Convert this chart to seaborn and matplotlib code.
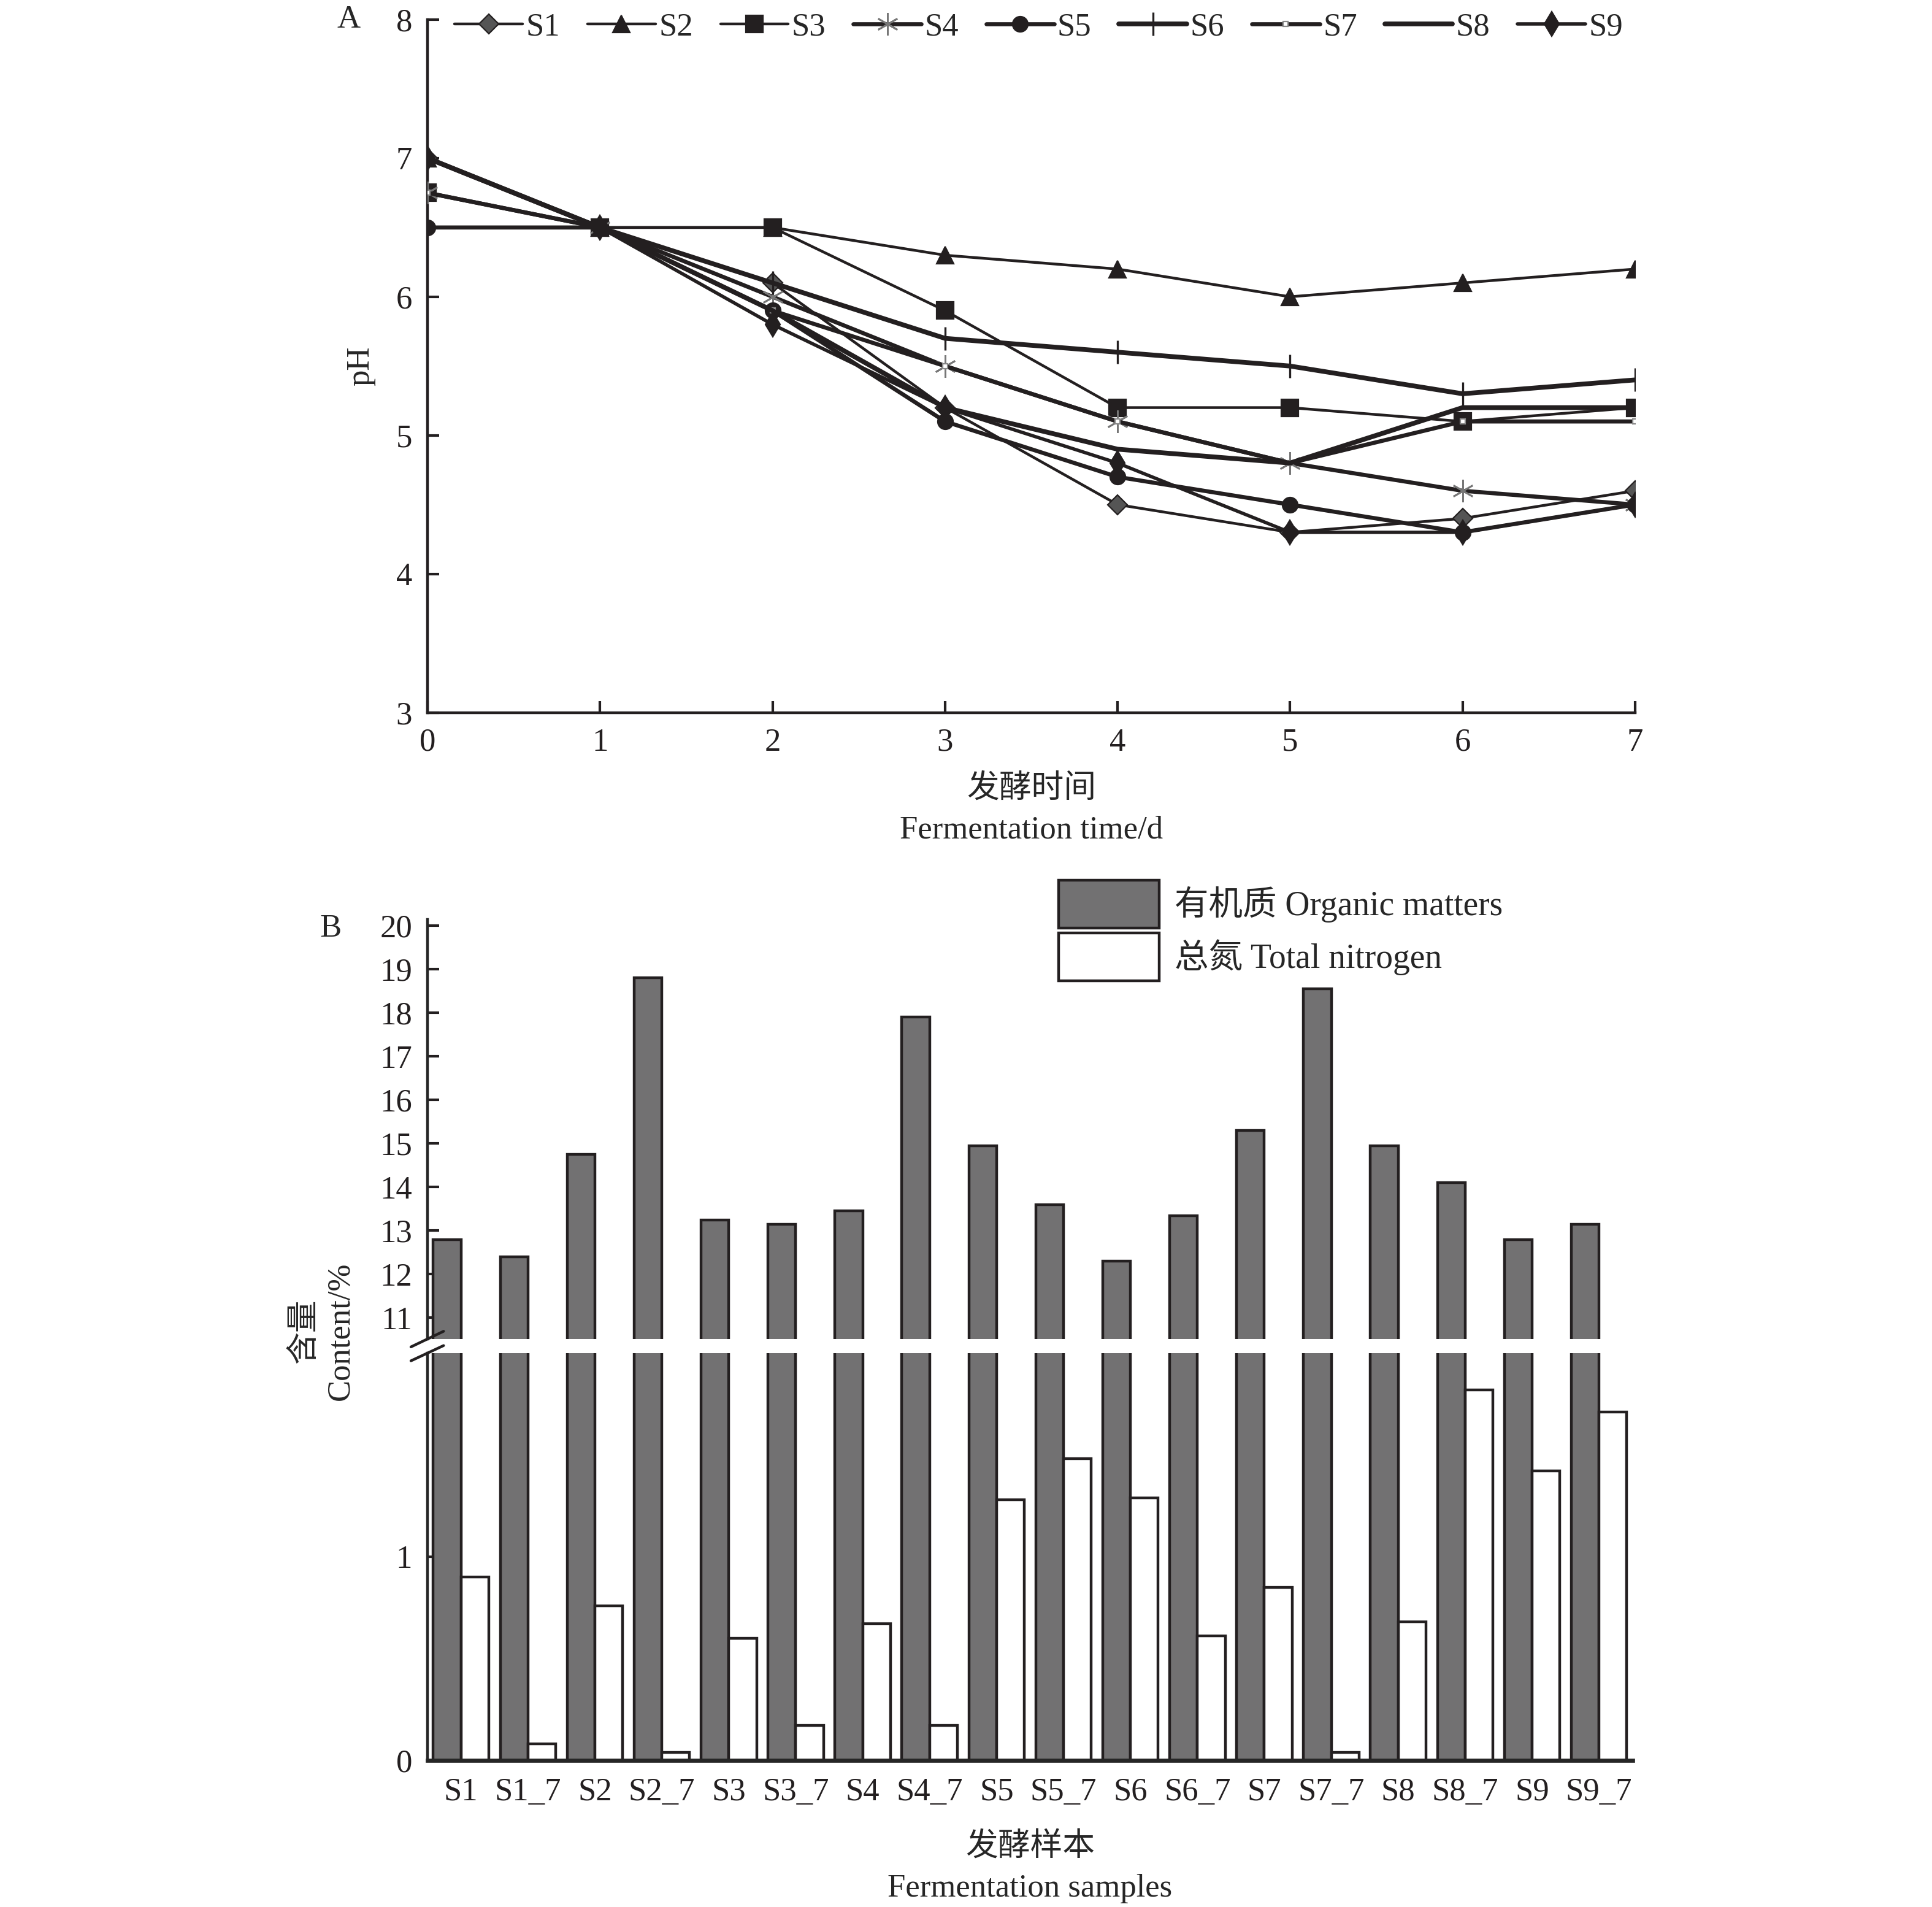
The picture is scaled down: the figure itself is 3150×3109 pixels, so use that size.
import pandas as pd
import matplotlib.pyplot as plt
import matplotlib.lines as mlines
import seaborn as sns
import numpy as np

# pH data (panel A)
days = [0, 1, 2, 3, 4, 5, 6, 7]
S1 = [7.0, 6.5, 6.1, 5.2, 4.5, 4.3, 4.4, 4.6]
S2 = [7.0, 6.5, 6.5, 6.3, 6.2, 6.0, 6.1, 6.2]
S3 = [6.75, 6.5, 6.5, 5.9, 5.2, 5.2, 5.1, 5.2]
S4 = [6.75, 6.5, 6.0, 5.5, 5.1, 4.8, 4.6, 4.5]
S5 = [6.5, 6.5, 5.9, 5.1, 4.7, 4.5, 4.3, 4.5]
S6 = [7.0, 6.5, 6.1, 5.7, 5.6, 5.5, 5.3, 5.4]
S7 = [6.75, 6.5, 5.9, 5.5, 5.1, 4.8, 5.1, 5.1]
S8 = [7.0, 6.5, 5.9, 5.2, 4.9, 4.8, 5.2, 5.2]
S9 = [7.0, 6.5, 5.8, 5.2, 4.8, 4.3, 4.3, 4.5]

# organic matter / total nitrogen (panel B)
samples = ['S1', 'S1_7', 'S2', 'S2_7', 'S3', 'S3_7', 'S4', 'S4_7', 'S5',
           'S5_7', 'S6', 'S6_7', 'S7', 'S7_7', 'S8', 'S8_7', 'S9', 'S9_7']
organic = [12.8, 12.4, 14.75, 18.8, 13.25, 13.15, 13.45, 17.9, 14.95,
           13.6, 12.3, 13.35, 15.3, 18.55, 14.95, 14.1, 12.8, 13.15]
nitrogen = [0.90, 0.08, 0.76, 0.04, 0.60, 0.17, 0.67, 0.17, 1.28,
            1.48, 1.29, 0.61, 0.85, 0.04, 0.68, 1.82, 1.42, 1.71]

sns.set_style('ticks')
plt.rcParams['font.family'] = ['Liberation Serif', 'Noto Sans CJK SC']
plt.rcParams['font.size'] = 19
ink = '#231f20'
grey = '#727172'

fig = plt.figure(figsize=(15.75, 15.545), dpi=200)

# ---- panel A ----
ax1 = fig.add_axes([0.2213, 0.6264, 0.625, 0.3633])
styles = {
    'S1': dict(marker='D', ms=8, mfc='#555555', mec=ink, lw=1.6),
    'S2': dict(marker='^', ms=10, mfc=ink, mec=ink, lw=1.6),
    'S3': dict(marker='s', ms=10, mfc=ink, mec=ink, lw=1.6),
    'S4': dict(marker=(6, 2, 0), ms=13, mfc='#777777', mec='#777777', mew=1.0, lw=2.4),
    'S5': dict(marker='o', ms=9, mfc=ink, mec=ink, lw=2.4),
    'S6': dict(marker='|', ms=14, mfc=ink, mec=ink, mew=1.2, lw=2.8),
    'S7': dict(marker='s', ms=3, mfc='white', mec='#888888', mew=0.8, lw=2.4),
    'S8': dict(marker=None, lw=2.8),
    'S9': dict(marker='d', ms=10, mfc=ink, mec=ink, lw=2.0),
}
series = {'S1': S1, 'S2': S2, 'S3': S3, 'S4': S4, 'S5': S5,
          'S6': S6, 'S7': S7, 'S8': S8, 'S9': S9}
handles = []
for name, vals in series.items():
    st = styles[name]
    sns.lineplot(x=days, y=vals, ax=ax1, color=ink, linewidth=st['lw'],
                 marker=st['marker'], markersize=st.get('ms', 0),
                 markerfacecolor=st.get('mfc', ink),
                 markeredgecolor=st.get('mec', ink),
                 markeredgewidth=st.get('mew', 0.8), zorder=3)
    handles.append(mlines.Line2D([], [], color=ink, lw=st['lw'],
                                 marker=st['marker'], ms=st.get('ms', 0),
                                 mfc=st.get('mfc', ink), mec=st.get('mec', ink),
                                 mew=st.get('mew', 0.8), label=name))

ax1.set_xlim(0, 7)
ax1.set_ylim(3, 8)
ax1.set_xticks(days)
ax1.set_yticks([3, 4, 5, 6, 7, 8])
ax1.tick_params(direction='in', length=7, width=1.5, colors=ink, labelsize=19, pad=9)
for s in ['left', 'bottom']:
    ax1.spines[s].set_linewidth(1.6)
    ax1.spines[s].set_color(ink)
sns.despine(ax=ax1)
ax1.set_ylabel('pH', fontsize=19, labelpad=12)
ax1.set_xlabel('发酵时间\nFermentation time/d', fontsize=19, labelpad=10,
               linespacing=1.5)
fig.legend(handles=handles, loc='upper left', ncol=9, frameon=False,
           bbox_to_anchor=(0.227, 1.002), bbox_transform=fig.transFigure,
           handlelength=2.1, handletextpad=0.1, columnspacing=0.85,
           borderpad=0, fontsize=19)
fig.text(0.1805, 0.9897, 'A', fontsize=19, va='center', ha='center')

# ---- panel B (broken y axis) ----
df = pd.DataFrame({
    'sample': samples * 2,
    'kind': ['有机质 Organic matters'] * len(samples) + ['总氮 Total nitrogen'] * len(samples),
    'value': organic + nitrogen,
})
pal = {'有机质 Organic matters': grey, '总氮 Total nitrogen': 'white'}

ax_hi = fig.add_axes([0.2213, 0.298, 0.6237, 0.220])
ax_lo = fig.add_axes([0.2213, 0.0769, 0.6237, 0.2136])
for ax in (ax_hi, ax_lo):
    sns.barplot(data=df, x='sample', y='value', hue='kind', palette=pal,
                order=samples, width=0.83, edgecolor=ink, linewidth=1.6,
                ax=ax, legend=(ax is ax_hi))
    ax.set_xlim(-0.5, 17.5)
    ax.set_xlabel('')
    ax.set_ylabel('')
    ax.tick_params(axis='y', direction='in', length=7, width=1.5, colors=ink,
                   labelsize=19, pad=9)

ax_hi.set_ylim(10.52, 20.15)
ax_hi.set_yticks(range(11, 21))
ax_hi.set_xticks([])
sns.despine(ax=ax_hi, bottom=True)
ax_hi.spines['left'].set_linewidth(1.6)

ax_lo.set_ylim(0, 2.0)
ax_lo.set_yticks([0, 1])
sns.despine(ax=ax_lo)
ax_lo.spines['left'].set_linewidth(1.6)
ax_lo.spines['bottom'].set_linewidth(2.4)
ax_lo.tick_params(axis='x', length=0, labelsize=19, pad=10, colors=ink)
ax_lo.set_xlabel('发酵样本\nFermentation samples', fontsize=19, labelpad=15,
                 linespacing=1.5)

leg = ax_hi.get_legend()
h, l = ax_hi.get_legend_handles_labels()
leg.remove()
fig.legend(h, l, loc='upper left', frameon=False,
           bbox_to_anchor=(0.539, 0.5474), bbox_transform=fig.transFigure,
           handlelength=2.95, handleheight=1.78, handletextpad=0.45,
           labelspacing=0.15, borderpad=0, fontsize=20)

# break marks
for y0, y1 in ((0.2937, 0.3019), (0.2864, 0.2944)):
    fig.add_artist(mlines.Line2D([0.2127, 0.2296], [y0, y1],
                                 color=ink, lw=1.6, transform=fig.transFigure))

fig.text(0.167, 0.302, '含量\nContent/%', rotation=90, fontsize=19,
         ha='center', va='center', linespacing=1.3)
fig.text(0.171, 0.513, 'B', fontsize=19, va='center', ha='center')

plt.savefig('out.png', dpi=200)
